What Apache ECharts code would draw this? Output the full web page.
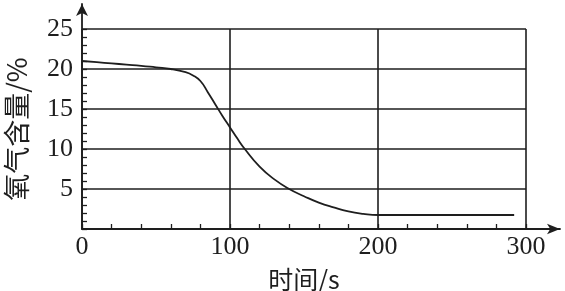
<!DOCTYPE html>
<html><head><meta charset="utf-8">
<script src="https://cdn.jsdelivr.net/npm/echarts@6/dist/echarts.min.js"></script>
<style>html,body{margin:0;padding:0;background:#fff}#c{width:565px;height:291px}</style>
</head><body><div id="c"></div>
<script>
const timeS = [0, 10, 20, 30, 40, 50, 60, 70, 75, 80, 85, 90, 95, 100, 105, 110, 120, 130, 140, 150, 160, 170, 180, 190, 200, 292];
const oxygenPct = [21.0, 20.85, 20.7, 20.55, 20.4, 20.2, 20.0, 19.6, 19.2, 18.5, 17.1, 15.6, 14.1, 12.7, 11.3, 10.0, 7.8, 6.2, 5.0, 4.1, 3.3, 2.7, 2.2, 1.9, 1.75, 1.75];
const xTicks = [0, 100, 200, 300];
const yTicks = [5, 10, 15, 20, 25];
const xName = '时间/s';
const yName = '氧气含量/%';

const ink = '#1e1e1e';
const serif = 'Liberation Serif';
const chart = echarts.init(document.getElementById('c'));
const pts = timeS.map((t, i) => [t, oxygenPct[i]]);
chart.setOption({
  animation: false,
  backgroundColor: '#fff',
  grid: [
    {left: 82, right: 39, top: 29, bottom: 62, containLabel: false, outerBoundsMode: 'none'},
    {left: 82, right: 5, top: 4, bottom: 62, containLabel: false, outerBoundsMode: 'none'}
  ],
  xAxis: [
    {gridIndex: 0, type: 'value', min: xTicks[0], max: xTicks[xTicks.length - 1], interval: 100,
     axisLine: {show: false},
     axisTick: {show: true, inside: true, length: 5, lineStyle: {color: ink, width: 1.3}},
     minorTick: {show: true, splitNumber: 5, length: 5, lineStyle: {color: ink, width: 1.3}},
     splitLine: {show: true, lineStyle: {color: ink, width: 1.6}},
     axisLabel: {color: ink, fontFamily: serif, fontSize: 26, margin: 5},
     name: xName, nameLocation: 'middle', nameGap: 38,
     nameTextStyle: {color: ink, fontFamily: 'Noto Sans CJK SC', fontSize: 25}},
    {gridIndex: 1, type: 'value', min: 0, max: 1,
     axisLine: {show: true, symbol: ['none', 'arrow'], symbolSize: [8, 13], lineStyle: {color: ink, width: 1.8}},
     axisTick: {show: false}, axisLabel: {show: false}, splitLine: {show: false}}
  ],
  yAxis: [
    {gridIndex: 0, type: 'value', min: 0, max: yTicks[yTicks.length - 1], interval: 5,
     axisLine: {show: false},
     axisTick: {show: true, inside: true, length: 5, lineStyle: {color: ink, width: 1.3}},
     minorTick: {show: true, splitNumber: 5, length: 5, lineStyle: {color: ink, width: 1.3}},
     splitLine: {show: true, lineStyle: {color: ink, width: 1.6}},
     axisLabel: {color: ink, fontFamily: serif, fontSize: 26, margin: 9,
       formatter: v => (yTicks.indexOf(v) >= 0 ? String(v) : '')},
     name: yName, nameLocation: 'middle', nameGap: 52, nameRotate: 90,
     nameTextStyle: {color: ink, fontFamily: 'Noto Sans CJK SC', fontSize: 27}},
    {gridIndex: 1, type: 'value', min: 0, max: 1,
     axisLine: {show: true, symbol: ['none', 'arrow'], symbolSize: [9, 12], lineStyle: {color: ink, width: 1.8}},
     axisTick: {show: false}, axisLabel: {show: false}, splitLine: {show: false}}
  ],
  series: [{
    type: 'line', xAxisIndex: 0, yAxisIndex: 0, data: pts,
    smooth: 0.5, showSymbol: false,
    lineStyle: {color: ink, width: 1.8}
  }]
});
</script></body></html>
